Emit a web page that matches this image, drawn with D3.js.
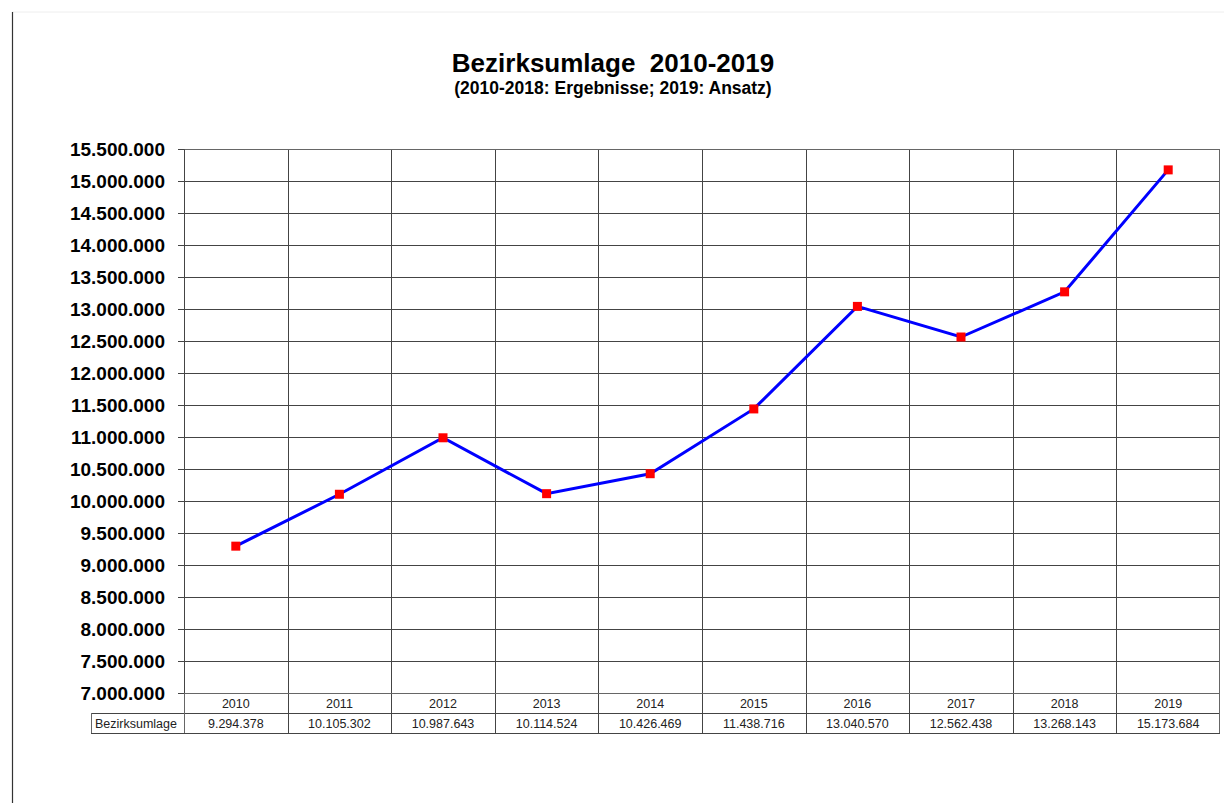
<!DOCTYPE html>
<html>
<head>
<meta charset="utf-8">
<script src="https://cdn.jsdelivr.net/npm/d3@7"></script>
<style>
  body { margin: 0; background: #fff; }
  svg { display: block; font-family: "Liberation Sans", Arial, sans-serif; }
</style>
</head>
<body>
<svg width="1224" height="803"></svg>
<script>
// data
const years = ['2010', '2011', '2012', '2013', '2014', '2015', '2016', '2017', '2018', '2019']
const values = [9294378, 10105302, 10987643, 10114524, 10426469, 11438716, 13040570, 12562438, 13268143, 15173684]
const seriesName = 'Bezirksumlage'
const yTicks = d3.range(7000000, 15500001, 500000)

const de = d3.formatLocale({ decimal: ',', thousands: '.', grouping: [3], currency: ['', ' €'] })
const fmt = de.format(',d')

const svg = d3.select('svg')

// page frame
svg.append('line').attr('x1', 12).attr('x2', 1224).attr('y1', 12).attr('y2', 12)
  .attr('stroke', '#eee').attr('stroke-width', 1)
svg.append('line').attr('x1', 12.5).attr('x2', 12.5).attr('y1', 12).attr('y2', 803)
  .attr('stroke', '#333').attr('stroke-width', 1.2)

// titles
svg.append('text').attr('x', 613).attr('y', 72).attr('text-anchor', 'middle')
  .attr('font-size', 26).attr('font-weight', 'bold').text('Bezirksumlage\u00a0 2010-2019')
svg.append('text').attr('x', 613).attr('y', 94).attr('text-anchor', 'middle')
  .attr('font-size', 17.5).attr('font-weight', 'bold').text('(2010-2018: Ergebnisse; 2019: Ansatz)')

const pLeft = 184, pRight = 1220, pTop = 149, pBottom = 693
const x = d3.scaleBand().domain(years).range([pLeft, pRight])
const y = d3.scaleLinear().domain([7000000, 15500000]).range([pBottom, pTop])

// horizontal grid
svg.append('g').selectAll('line').data(yTicks).join('line')
  .attr('x1', pLeft).attr('x2', pRight)
  .attr('y1', d => Math.round(y(d)) + 0.5).attr('y2', d => Math.round(y(d)) + 0.5)
  .attr('stroke', '#444').attr('stroke-width', 1)

// vertical grid (category boundaries)
svg.append('g').selectAll('line').data(years.slice(1)).join('line')
  .attr('x1', d => Math.round(x(d)) + 0.5).attr('x2', d => Math.round(x(d)) + 0.5)
  .attr('y1', pTop).attr('y2', pBottom + 40)
  .attr('stroke', '#444').attr('stroke-width', 1)

// plot border
svg.append('rect').attr('x', pLeft + 0.5).attr('y', pTop + 0.5)
  .attr('width', pRight - pLeft - 1).attr('height', pBottom - pTop)
  .attr('fill', 'none').attr('stroke', '#666').attr('stroke-width', 1)

// y axis
const yAxis = d3.axisLeft(y).tickValues(yTicks).tickFormat(fmt).tickSize(6).tickPadding(13)
const ya = svg.append('g').attr('transform', `translate(${pLeft},0)`).call(yAxis)
ya.select('.domain').attr('stroke', '#444')
ya.selectAll('.tick line').attr('stroke', '#444')
ya.selectAll('.tick text').attr('font-size', 19).attr('font-weight', 'bold')
  .attr('font-family', '"Liberation Sans", Arial, sans-serif').attr('fill', '#000')

// line + markers
const line = d3.line().x((d, i) => x(years[i]) + x.bandwidth() / 2).y(d => y(d))
svg.append('path').datum(values).attr('d', line)
  .attr('fill', 'none').attr('stroke', '#0000ff').attr('stroke-width', 3)
svg.append('g').selectAll('rect').data(values).join('rect')
  .attr('x', (d, i) => x(years[i]) + x.bandwidth() / 2 - 4.5)
  .attr('y', d => y(d) - 4.5)
  .attr('width', 9).attr('height', 9).attr('fill', '#ff0000')

// data table
const rowY = 713, rowB = 733
const tbl = svg.append('g')
tbl.append('line').attr('x1', 91).attr('x2', pRight).attr('y1', rowY + 0.5).attr('y2', rowY + 0.5)
  .attr('stroke', '#444')
tbl.append('line').attr('x1', 91).attr('x2', pRight).attr('y1', rowB + 0.5).attr('y2', rowB + 0.5)
  .attr('stroke', '#444')
tbl.append('line').attr('x1', 91.5).attr('x2', 91.5).attr('y1', rowY).attr('y2', rowB)
  .attr('stroke', '#666')
tbl.append('line').attr('x1', pLeft + 0.5).attr('x2', pLeft + 0.5).attr('y1', pBottom).attr('y2', rowB)
  .attr('stroke', '#666')
tbl.append('line').attr('x1', pRight - 0.5).attr('x2', pRight - 0.5).attr('y1', pBottom).attr('y2', rowB)
  .attr('stroke', '#666')

tbl.selectAll('text.yr').data(years).join('text').attr('class', 'yr')
  .attr('x', d => x(d) + x.bandwidth() / 2).attr('y', 708)
  .attr('text-anchor', 'middle').attr('font-size', 12.5).attr('fill', '#222').text(d => d)
tbl.selectAll('text.val').data(values).join('text').attr('class', 'val')
  .attr('x', (d, i) => x(years[i]) + x.bandwidth() / 2).attr('y', 728)
  .attr('text-anchor', 'middle').attr('font-size', 12.5).attr('fill', '#222').text(d => fmt(d))
tbl.append('text').attr('x', 95).attr('y', 728).attr('font-size', 12.5).attr('fill', '#222')
  .text(seriesName)
</script>
</body>
</html>
